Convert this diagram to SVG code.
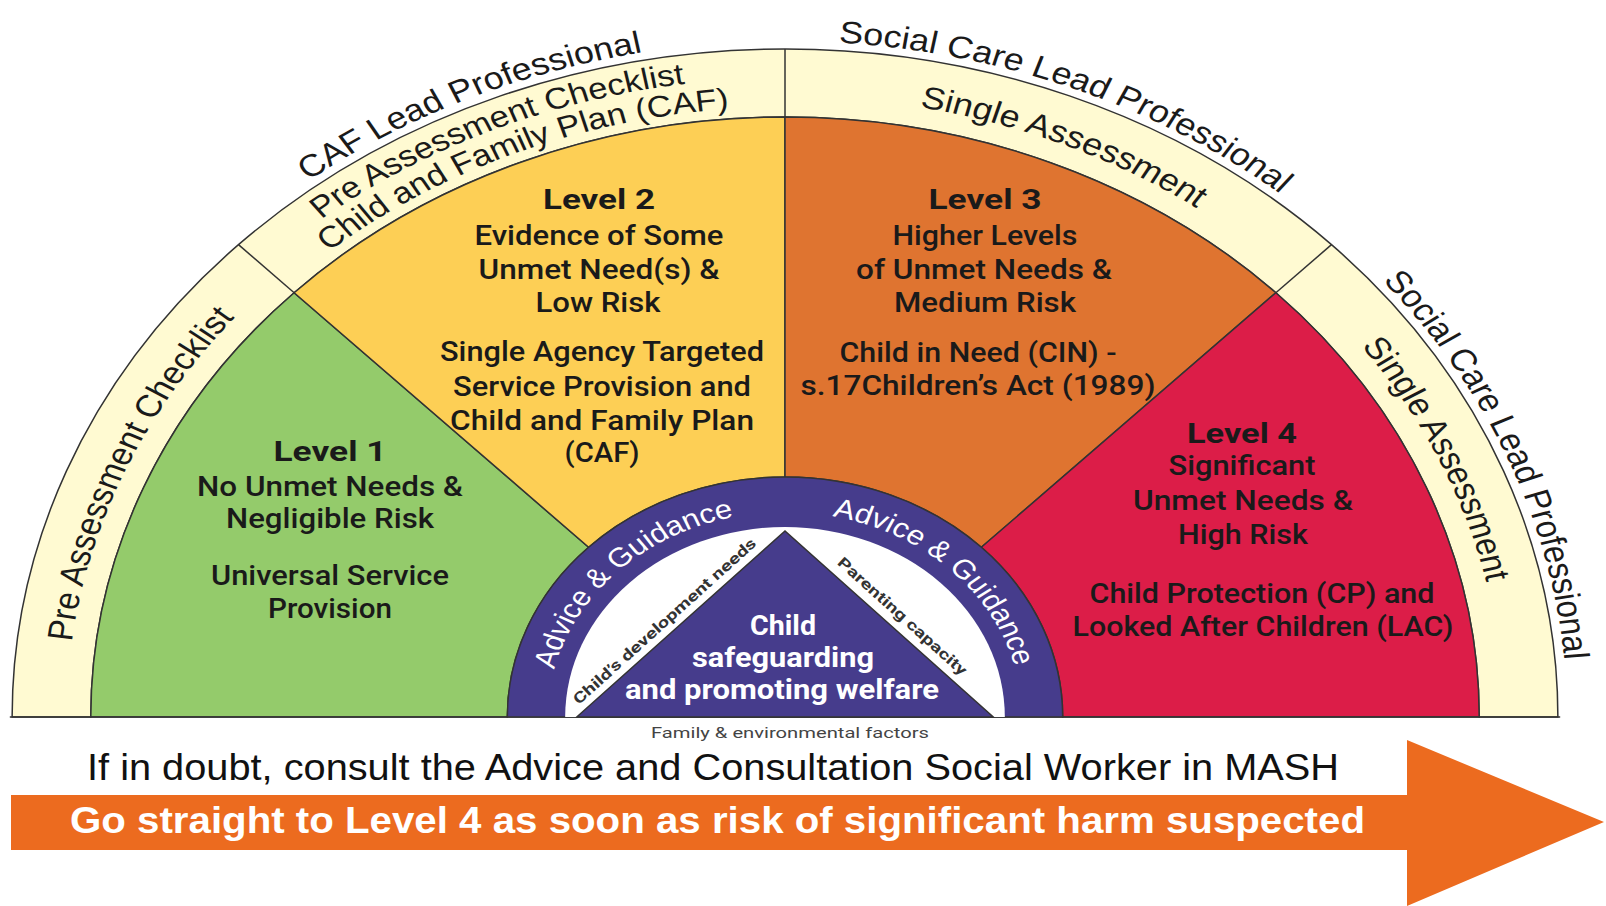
<svg xmlns="http://www.w3.org/2000/svg" width="1606" height="906" viewBox="0 0 1606 906">
<style>
.ln{stroke:#333;stroke-width:1.5;vector-effect:non-scaling-stroke}
.arc{font-family:"Liberation Sans",Arial,sans-serif;font-size:31px;fill:#1a1a1a}
.arc2{font-family:"Liberation Sans",Arial,sans-serif;font-size:30px;fill:#1a1a1a}
.adv{font-family:"Liberation Sans",Arial,sans-serif;font-size:27px;fill:#ffffff}
.lvh{font-family:Roboto,"Liberation Sans",sans-serif;font-weight:700;font-size:28px;fill:#1a1a1a;text-anchor:middle}
.lvt{font-family:Roboto,"Liberation Sans",sans-serif;font-weight:500;font-size:27px;fill:#1a1a1a;text-anchor:middle}
.ctr{font-family:Roboto,"Liberation Sans",sans-serif;font-weight:700;font-size:27px;fill:#ffffff;text-anchor:middle}
.sm{font-family:Roboto,"Liberation Sans",sans-serif;font-weight:700;font-size:15px;fill:#333;text-anchor:middle}
</style>
<defs>
<path id="p1" d="M -546.9 -397.4 A 676 676 0 0 1 70.7 -672.3"/>
<path id="p2" d="M -98.75 -668.75 A 676 676 0 0 1 529.8 -419.9"/>
<path id="p3" d="M 411.5 -536.3 A 676 676 0 0 1 670.2 88.2"/>
<path id="p4" d="M -617.0 70.3 A 621 621 0 0 1 -369.4 -499.2"/>
<path id="p5" d="M -512.3 -381.9 A 639 639 0 0 1 74.6 -634.6"/>
<path id="p6" d="M -483.3 -372.2 A 610 610 0 0 1 80.7 -604.6"/>
<path id="p7" d="M -76.8 -616.2 A 621 621 0 0 1 495.1 -374.8"/>
<path id="p8" d="M 359.7 -506.2 A 621 621 0 0 1 618.2 58.4"/>
<path id="p9" d="M -205.0 -1.8 A 205 205 0 0 1 1.8 -205.0"/>
<path id="p10" d="M -5.0 -204.9 A 205 205 0 0 1 204.9 -5.0"/>
</defs>
<rect width="1606" height="906" fill="#ffffff"/>

<g transform="translate(785,717) scale(1.157,1)">
  <g id="band">
    <path class="ln" d="M -668 0 A 668 668 0 0 1 668 0 L 600 0 A 600 600 0 0 0 -600 0 Z" fill="#FFFAD2"/>
  </g>
  <g id="level1-sector">
    <path class="ln" d="M -600 0 A 600 600 0 0 1 -424.26 -424.26 L -169.71 -169.71 A 240 240 0 0 0 -240 0 Z" fill="#94CB6B"/>
  </g>
  <g id="level2-sector">
    <path class="ln" d="M -424.26 -424.26 A 600 600 0 0 1 0 -600 L 0 -240 A 240 240 0 0 0 -169.71 -169.71 Z" fill="#FDCF55"/>
  </g>
  <g id="level3-sector">
    <path class="ln" d="M 0 -600 A 600 600 0 0 1 424.26 -424.26 L 169.71 -169.71 A 240 240 0 0 0 0 -240 Z" fill="#DF7430"/>
  </g>
  <g id="level4-sector">
    <path class="ln" d="M 424.26 -424.26 A 600 600 0 0 1 600 0 L 240 0 A 240 240 0 0 0 169.71 -169.71 Z" fill="#DC1D48"/>
  </g>
  <g id="connectors">
    <line class="ln" x1="-424.26" y1="-424.26" x2="-472.35" y2="-472.35"/>
    <line class="ln" x1="0" y1="-600" x2="0" y2="-668"/>
    <line class="ln" x1="424.26" y1="-424.26" x2="472.35" y2="-472.35"/>
    <line class="ln" x1="-670" y1="0" x2="670" y2="0" stroke="#555"/>
  </g>
  <g id="center">
    <path class="ln" d="M -240 0 A 240 240 0 0 1 240 0 Z" fill="#463C8C"/>
    <path d="M -190 0 A 190 190 0 0 1 190 0 Z" fill="#ffffff"/>
    <path class="ln" d="M -180 0 L 0 -186 L 180 0 Z" fill="#463C8C"/>
    <text class="adv"><textPath href="#p9" startOffset="50%" text-anchor="middle">Advice &amp; Guidance</textPath></text>
    <text class="adv"><textPath href="#p10" startOffset="50%" text-anchor="middle">Advice &amp; Guidance</textPath></text>
  </g>
  <g id="arc-labels">
    <text class="arc"><textPath href="#p1" startOffset="50%" text-anchor="middle">CAF Lead Professional</textPath></text>
    <text class="arc"><textPath href="#p2" startOffset="50%" text-anchor="middle">Social Care Lead Professional</textPath></text>
    <text class="arc"><textPath href="#p3" startOffset="50%" text-anchor="middle">Social Care Lead Professional</textPath></text>
    <text class="arc"><textPath href="#p4" startOffset="50%" text-anchor="middle">Pre Assessment Checklist</textPath></text>
    <text class="arc2"><textPath href="#p5" startOffset="50%" text-anchor="middle">Pre Assessment Checklist</textPath></text>
    <text class="arc2"><textPath href="#p6" startOffset="50%" text-anchor="middle">Child and Family Plan (CAF)</textPath></text>
    <text class="arc"><textPath href="#p7" startOffset="50%" text-anchor="middle">Single Assessment</textPath></text>
    <text class="arc"><textPath href="#p8" startOffset="50%" text-anchor="middle">Single Assessment</textPath></text>
  </g>
</g>

<g id="level1">
  <text class="lvh" x="330" y="461" textLength="113" lengthAdjust="spacingAndGlyphs">Level 1</text>
  <text class="lvt" x="330" y="496" textLength="266" lengthAdjust="spacingAndGlyphs">No Unmet Needs &amp;</text>
  <text class="lvt" x="330" y="528" textLength="208" lengthAdjust="spacingAndGlyphs">Negligible Risk</text>
  <text class="lvt" x="330" y="585" textLength="238" lengthAdjust="spacingAndGlyphs">Universal Service</text>
  <text class="lvt" x="330" y="618" textLength="124" lengthAdjust="spacingAndGlyphs">Provision</text>
</g>
<g id="level2">
  <text class="lvh" x="599" y="209" textLength="112" lengthAdjust="spacingAndGlyphs">Level 2</text>
  <text class="lvt" x="599" y="245" textLength="249" lengthAdjust="spacingAndGlyphs">Evidence of Some</text>
  <text class="lvt" x="599" y="279" textLength="241" lengthAdjust="spacingAndGlyphs">Unmet Need(s) &amp;</text>
  <text class="lvt" x="598" y="312" textLength="125" lengthAdjust="spacingAndGlyphs">Low Risk</text>
  <text class="lvt" x="602" y="361" textLength="324" lengthAdjust="spacingAndGlyphs">Single Agency Targeted</text>
  <text class="lvt" x="602" y="396" textLength="298" lengthAdjust="spacingAndGlyphs">Service Provision and</text>
  <text class="lvt" x="602" y="430" textLength="304" lengthAdjust="spacingAndGlyphs">Child and Family Plan</text>
  <text class="lvt" x="602" y="462" textLength="75" lengthAdjust="spacingAndGlyphs">(CAF)</text>
</g>
<g id="level3">
  <text class="lvh" x="985" y="209" textLength="113" lengthAdjust="spacingAndGlyphs">Level 3</text>
  <text class="lvt" x="985" y="245" textLength="185" lengthAdjust="spacingAndGlyphs">Higher Levels</text>
  <text class="lvt" x="984" y="279" textLength="256" lengthAdjust="spacingAndGlyphs">of Unmet Needs &amp;</text>
  <text class="lvt" x="985" y="312" textLength="182" lengthAdjust="spacingAndGlyphs">Medium Risk</text>
  <text class="lvt" x="978" y="362" textLength="277" lengthAdjust="spacingAndGlyphs">Child in Need (CIN) -</text>
  <text class="lvt" x="978" y="395" textLength="355" lengthAdjust="spacingAndGlyphs">s.17Children’s Act (1989)</text>
</g>
<g id="level4">
  <text class="lvh" x="1242" y="443" textLength="110" lengthAdjust="spacingAndGlyphs">Level 4</text>
  <text class="lvt" x="1242" y="475" textLength="147" lengthAdjust="spacingAndGlyphs">Significant</text>
  <text class="lvt" x="1243" y="510" textLength="220" lengthAdjust="spacingAndGlyphs">Unmet Needs &amp;</text>
  <text class="lvt" x="1243" y="544" textLength="130" lengthAdjust="spacingAndGlyphs">High Risk</text>
  <text class="lvt" x="1262" y="603" textLength="345" lengthAdjust="spacingAndGlyphs">Child Protection (CP) and</text>
  <text class="lvt" x="1263" y="636" textLength="381" lengthAdjust="spacingAndGlyphs">Looked After Children (LAC)</text>
</g>
<g id="triangle-text">
  <text class="ctr" x="783" y="635" textLength="66" lengthAdjust="spacingAndGlyphs">Child</text>
  <text class="ctr" x="783" y="667" textLength="182" lengthAdjust="spacingAndGlyphs">safeguarding</text>
  <text class="ctr" x="782" y="699" textLength="314" lengthAdjust="spacingAndGlyphs">and promoting welfare</text>
  <text class="sm" transform="translate(668,625) rotate(-42)" textLength="240" lengthAdjust="spacingAndGlyphs">Child’s development needs</text>
  <text class="sm" transform="translate(899,620) rotate(42)" textLength="168" lengthAdjust="spacingAndGlyphs">Parenting capacity</text>
  <text class="sm" x="790" y="738" style="font-weight:400;fill:#444" textLength="278" lengthAdjust="spacingAndGlyphs">Family &amp; environmental factors</text>
</g>
<g id="footer">
  <path d="M 11 795 L 1407 795 L 1407 740 L 1604 822 L 1407 906 L 1407 850 L 11 850 Z" fill="#EC6B1F"/>
  <text x="87" y="780" font-family="Liberation Sans, Arial, sans-serif" font-size="37" fill="#111" textLength="1252" lengthAdjust="spacingAndGlyphs">If in doubt, consult the Advice and Consultation Social Worker in MASH</text>
  <text x="70" y="833" font-family="Liberation Sans, Arial, sans-serif" font-size="37" font-weight="bold" fill="#ffffff" textLength="1295" lengthAdjust="spacingAndGlyphs">Go straight to Level 4 as soon as risk of significant harm suspected</text>
</g>
</svg>
